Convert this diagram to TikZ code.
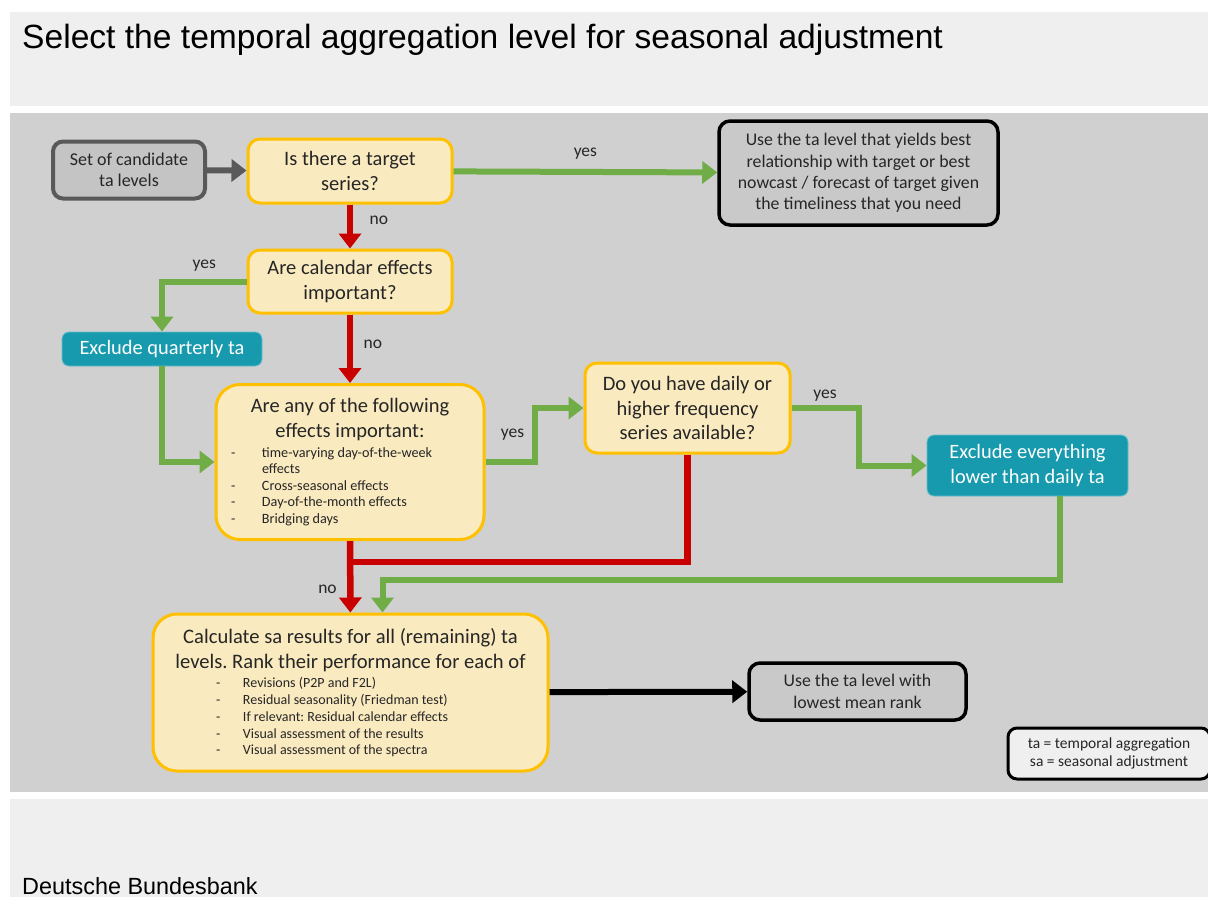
\documentclass[tikz,border=0pt]{standalone}
\usepackage{fontspec}
\setmainfont{Carlito}
\newfontfamily\arialfont{Liberation Sans}
\usetikzlibrary{arrows.meta,calc,positioning}
\definecolor{tagreen}{RGB}{112,173,71}
\definecolor{tared}{RGB}{200,0,0}
\definecolor{tayellow}{RGB}{250,234,192}
\definecolor{taorange}{RGB}{255,192,0}
\definecolor{tateal}{RGB}{23,154,173}
\definecolor{tapanel}{RGB}{208,208,208}
\definecolor{taheader}{RGB}{239,239,239}
\definecolor{tadark}{RGB}{89,89,89}
\definecolor{tatext}{RGB}{38,38,38}
\newcommand{\itemline}[4]{\makebox[\hsize][l]{\hspace*{#1}\makebox[#2][l]{#3}#4}}
\frenchspacing
\tikzset{
  boxtext/.style={align=center,execute at begin node={\spaceskip=.226em\xspaceskip=.226em\relax}},
  qbox/.style={boxtext,draw=taorange,line width=3pt,fill=tayellow,rounded corners=12pt,text=tatext,font=\fontsize{20.5}{24.5}\selectfont},
  startbox/.style={boxtext,draw=tadark,line width=4pt,fill=black!23,rounded corners=10pt,text=tatext,font=\fontsize{18}{21}\selectfont},
  endbox/.style={boxtext,draw=black,line width=3.5pt,fill=black!21,rounded corners=11pt,text=tatext,font=\fontsize{17.8}{21.3}\selectfont},
  exbox/.style={boxtext,draw=tateal!65!white,line width=0.8pt,fill=tateal,rounded corners=7pt,text=white,font=\fontsize{20.4}{25}\selectfont},
  legendbox/.style={boxtext,draw=black,line width=3pt,fill=taheader,rounded corners=9pt,text=tatext,font=\fontsize{15.5}{18}\selectfont},
  lbl/.style={text=tatext,font=\fontsize{17.5}{20}\selectfont},
  tip/.style={-{Triangle[width=22pt,length=15pt]}},
  yesarrow/.style={draw=tagreen,line width=6pt,tip},
  noarrow/.style={draw=tared,line width=6.5pt,tip},
  noline/.style={draw=tared,line width=6.5pt},
  grayarrow/.style={draw=tadark,line width=6pt,tip},
  blackarrow/.style={draw=black,line width=6pt,tip}
}
\begin{document}
\begin{tikzpicture}[x=1pt,y=-1pt]
    \useasboundingbox[fill=white] (0,0) rectangle (1208,897);
    % panels
    \fill[taheader] (10,12) rectangle (1208,106);
    \fill[tapanel] (10,113) rectangle (1208,792);
    \fill[taheader] (10,799) rectangle (1208,897);
    \node[anchor=base west,inner sep=0pt,font=\arialfont\fontsize{33.6}{40}\selectfont] (title) at (22,48) {Select the temporal aggregation level for seasonal adjustment};
    \node[anchor=base west,inner sep=0pt,font=\arialfont\fontsize{23.4}{28}\selectfont] (source) at (22,894) {Deutsche Bundesbank};

    % boxes
    \node[startbox,minimum width=152pt,minimum height=57pt] (cand) at (129,170) {Set of candidate\\ta levels};
    \node[qbox,minimum width=204pt,minimum height=64pt] (target) at (350,171) {Is there a target\\series?};
    \node[endbox,minimum width=279pt,minimum height=104pt] (usetarget) at (858.5,173) {Use the ta level that yields best\\relationship with target or best\\nowcast / forecast of target given\\the timeliness that you need};
    \node[qbox,minimum width=204pt,minimum height=63pt] (calendar) at (350,281.5) {Are calendar effects\\important?};
    \node[exbox,minimum width=200pt,minimum height=34pt] (exq) at (162,349) {Exclude quarterly ta};
    \node[qbox,rounded corners=24pt,text width=240pt,inner xsep=14pt,minimum height=155pt] (effects) at (350,462) {Are any of the following\\effects important:\\[3.5pt]
      {\fontsize{14.2}{16.5}\selectfont\spaceskip=0pt
      \itemline{1pt}{31pt}{-}{time-varying day-of-the-week}\\
      \itemline{1pt}{31pt}{}{effects}\\
      \itemline{1pt}{31pt}{-}{Cross-seasonal effects}\\
      \itemline{1pt}{31pt}{-}{Day-of-the-month effects}\\
      \itemline{1pt}{31pt}{-}{Bridging days}\par}};
    \node[qbox,minimum width=205pt,minimum height=90pt] (daily) at (687.5,408) {Do you have daily or\\higher frequency\\series available?};
    \node[exbox,minimum width=201pt,minimum height=61pt] (exd) at (1027.5,465.5) {Exclude everything\\lower than daily ta};
    \node[qbox,rounded corners=24pt,text width=367pt,inner xsep=14pt,minimum height=157pt,font=\fontsize{20.6}{25}\selectfont] (calc) at (350.5,692.5) {Calculate sa results for all (remaining) ta\\levels. Rank their performance for each of\\[3pt]
      {\fontsize{14}{16.75}\selectfont\spaceskip=0pt
      \itemline{49pt}{27pt}{-}{Revisions (P2P and F2L)}\\
      \itemline{49pt}{27pt}{-}{Residual seasonality (Friedman test)}\\
      \itemline{49pt}{27pt}{-}{If relevant: Residual calendar effects}\\
      \itemline{49pt}{27pt}{-}{Visual assessment of the results}\\
      \itemline{49pt}{27pt}{-}{Visual assessment of the spectra}\par}};
    \node[endbox,minimum width=217pt,minimum height=57pt] (rank) at (857.5,691.5) {Use the ta level with\\lowest mean rank};
    \node[legendbox,minimum width=202pt,minimum height=51pt] (legend) at (1109,753.5) {ta = temporal aggregation\\sa = seasonal adjustment};
    \coordinate (nojoin) at ([yshift=-21pt]effects.south);

    % connectors
    \draw[grayarrow] (cand) -- (target);
    \draw[yesarrow] (target) -- node[lbl,above=6pt]{yes} (usetarget);
    \draw[noarrow] (target) -- node[lbl,pos=.36,right=13pt]{no} (calendar);
    \draw[yesarrow] (calendar.west) -| node[lbl,pos=.25,above=4pt]{yes} (exq);
    \draw[noarrow] (calendar) -- node[lbl,pos=.44,right=7pt]{no} (effects);
    \draw[yesarrow] (exq) |- (effects);
    \draw[yesarrow] (effects.east) -- ++(49,0) |- node[lbl,pos=.25,left=4pt]{yes} (daily.west);
    \draw[yesarrow] (daily.east) -- node[lbl,above=0pt]{yes} ++(67,0) |- (exd.west);
    \draw[noline] (daily) |- (nojoin);
    \draw[noarrow] (effects) -- node[lbl,pos=.67,left=7pt]{no} (calc);
    \draw[yesarrow] ([xshift=32pt]exd.south) |- ([xshift=32pt,yshift=33pt]calc.north) -- ([xshift=32pt]calc.north);
    \draw[blackarrow] (calc) -- (rank);
  \end{tikzpicture}
\end{document}
